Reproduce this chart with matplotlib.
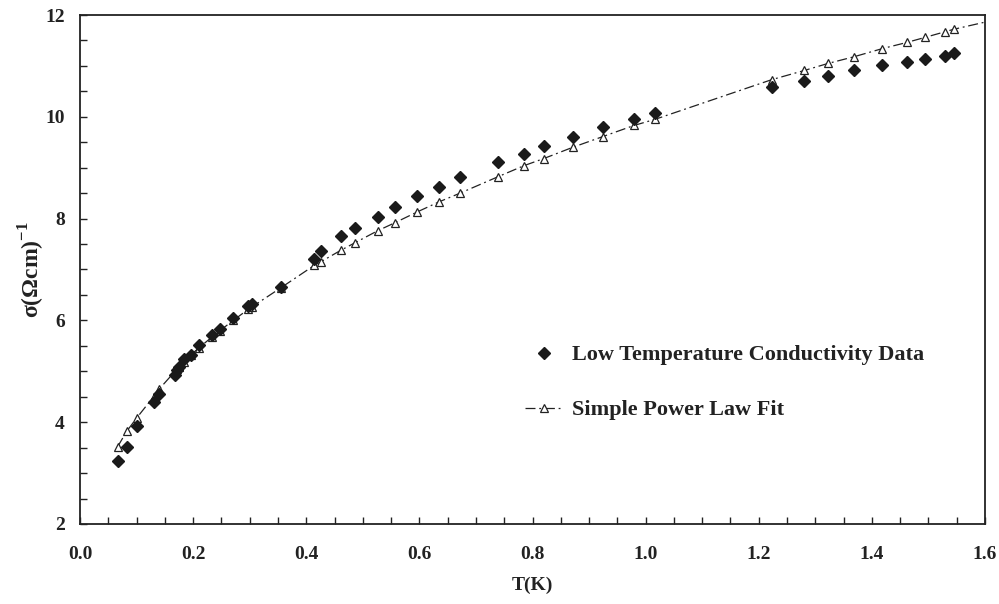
import matplotlib
matplotlib.use("Agg")
import matplotlib.pyplot as plt
from matplotlib.ticker import MultipleLocator, FormatStrFormatter

# Measured data (diamonds)
T_data = [0.0666, 0.0825, 0.100, 0.130, 0.140, 0.168, 0.172, 0.1756, 0.184, 0.196,
          0.210, 0.233, 0.2475, 0.271, 0.2976, 0.3047, 0.355, 0.414, 0.4255, 0.4615,
          0.487, 0.526, 0.557, 0.596, 0.635, 0.672, 0.7385, 0.785, 0.820, 0.871,
          0.924, 0.9795, 1.0166, 1.223, 1.2806, 1.323, 1.3685, 1.4185, 1.4616, 1.494,
          1.529, 1.545]
sigma_data = [3.23, 3.52, 3.92, 4.40, 4.56, 4.92, 5.03, 5.09, 5.24, 5.32,
              5.51, 5.72, 5.83, 6.04, 6.28, 6.32, 6.66, 7.20, 7.36, 7.65,
              7.82, 8.04, 8.23, 8.45, 8.63, 8.82, 9.11, 9.27, 9.42, 9.61,
              9.79, 9.96, 10.07, 10.59, 10.71, 10.81, 10.91, 11.01, 11.08, 11.14,
              11.20, 11.25]

# Power-law fit (triangles) plus the line end at the axis edge
T_fit = T_data + [1.60]
sigma_fit = [3.52, 3.82, 4.08, 4.50, 4.65, 5.00, 5.05, 5.09, 5.19, 5.32,
             5.46, 5.67, 5.80, 6.00, 6.22, 6.27, 6.64, 7.08, 7.15, 7.38,
             7.53, 7.76, 7.92, 8.13, 8.33, 8.50, 8.82, 9.04, 9.18, 9.40,
             9.61, 9.83, 9.95, 10.73, 10.91, 11.05, 11.18, 11.34, 11.46, 11.56,
             11.67, 11.72, 11.86]

plt.rcParams['font.family'] = ['Liberation Serif', 'DejaVu Serif']
plt.rcParams['font.weight'] = 'bold'
plt.rcParams['mathtext.fontset'] = 'custom'
plt.rcParams['mathtext.rm'] = 'Liberation Serif:bold'
plt.rcParams['mathtext.bf'] = 'Liberation Serif:bold'

W, H = 999, 604
fig = plt.figure(figsize=(W/100, H/100), dpi=100)
ax = fig.add_axes([80/W, 1-524/H, (985-80)/W, (524-15)/H])

ax.plot(T_fit, sigma_fit, color='#222222', lw=0.9, ls=(0, (8, 3, 1.5, 3)),
        marker='^', ms=5.5, mfc='white', mec='#222222', mew=0.9,
        markevery=list(range(len(T_data))), label='Simple Power Law Fit',
        clip_on=False, zorder=2)
ax.plot(T_data, sigma_data, ls='none', marker='D', ms=6, color='#1a1a1a',
        label='Low Temperature Conductivity Data', zorder=3)

ax.set_xlim(0.0, 1.6)
ax.set_ylim(2, 12)
ax.xaxis.set_major_locator(MultipleLocator(0.2))
ax.xaxis.set_minor_locator(MultipleLocator(0.05))
ax.yaxis.set_major_locator(MultipleLocator(2))
ax.yaxis.set_minor_locator(MultipleLocator(0.5))
ax.xaxis.set_major_formatter(FormatStrFormatter('%.1f'))
ax.yaxis.set_major_formatter(FormatStrFormatter('%d'))
ax.tick_params(axis='both', which='both', direction='in', length=5, width=1.0,
               top=False, right=False, labelsize=14, colors='#222222')
ax.tick_params(axis='x', pad=16)
ax.tick_params(axis='y', pad=11)
for lab in ax.get_xticklabels() + ax.get_yticklabels():
    lab.set_fontweight('bold')
for s in ax.spines.values():
    s.set_linewidth(1.3)
    s.set_color('#222222')

ax.set_xlabel('T(K)', fontsize=14, fontweight='bold', labelpad=10, color='#222222')
ax.set_ylabel(r'σ(Ωcm)$^{-1}$', fontsize=17, fontweight='bold', color='#222222')
ax.yaxis.set_label_coords(-0.036, 0.5)

h, l = ax.get_legend_handles_labels()
leg = ax.legend(h[::-1], l[::-1], loc='upper left', frameon=False,
                bbox_to_anchor=(516/W, 1-336/H), bbox_transform=fig.transFigure,
                borderaxespad=0,
                prop={'family': 'Liberation Serif', 'weight': 'bold', 'size': 16},
                labelspacing=1.55, handlelength=1.71, handletextpad=0.4)
for t in leg.get_texts():
    t.set_color('#222222')

fig.savefig('out.png', dpi=100)
